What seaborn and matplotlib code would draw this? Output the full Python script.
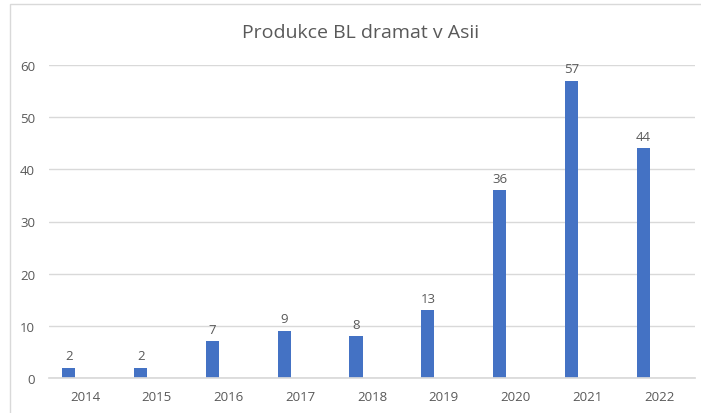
import matplotlib

matplotlib.use("Agg")
import matplotlib.pyplot as plt
import pandas as pd
import seaborn as sns
from matplotlib.patches import Rectangle

# chart data
years = ["2014", "2015", "2016", "2017", "2018", "2019", "2020", "2021", "2022"]
counts = [2, 2, 7, 9, 8, 13, 36, 57, 44]
y_ticks = [0, 10, 20, 30, 40, 50, 60]

TEXT = "#595959"
BAR = "#4472C4"
GRID = "#D9D9D9"

sns.set_theme(style="white")
plt.rcParams["font.family"] = ["Open Sans", "DejaVu Sans"]

# an empty (zero) second series keeps each bar at the left of its category, like the original
df = pd.concat([
    pd.DataFrame({"year": years, "count": counts, "series": "BL"}),
    pd.DataFrame({"year": years, "count": [0] * len(years), "series": "empty"}),
])

fig = plt.figure(figsize=(7.01, 4.14), dpi=100)
ax = fig.add_axes([49 / 701, 1 - 379 / 414, (695 - 49) / 701, (379 - 66) / 414])

sns.barplot(data=df, x="year", y="count", hue="series", hue_order=["BL", "empty"],
            palette={"BL": BAR, "empty": BAR}, width=0.89, gap=0.59,
            legend=False, ax=ax, saturation=1, linewidth=0)

ax.bar_label(ax.containers[0], fontsize=9.5, color=TEXT, padding=4)

ax.set_ylim(0, 60)
ax.set_xlim(-0.5, len(years) - 0.5)
ax.set_yticks(y_ticks)
ax.yaxis.grid(True, color=GRID, linewidth=1)
ax.set_axisbelow(True)
for side in ["top", "right", "left"]:
    ax.spines[side].set_visible(False)
ax.spines["bottom"].set_color(GRID)
ax.tick_params(axis="both", length=0, labelsize=9.5, labelcolor=TEXT)
ax.tick_params(axis="x", pad=9)
ax.tick_params(axis="y", pad=10)
ax.set_xlabel("")
ax.set_ylabel("")

fig.text(361 / 701, 1 - 33 / 414, "Produkce BL dramat v Asii", ha="center", va="center",
         fontsize=14, color=TEXT)

# chart frame
fig.patches.append(Rectangle((9.5 / 701, -0.05), 1.1, 1 - 5 / 414 + 0.05, transform=fig.transFigure,
                             fill=False, edgecolor=GRID, linewidth=1))

fig.savefig("out.png", dpi=100)
plt.close(fig)
